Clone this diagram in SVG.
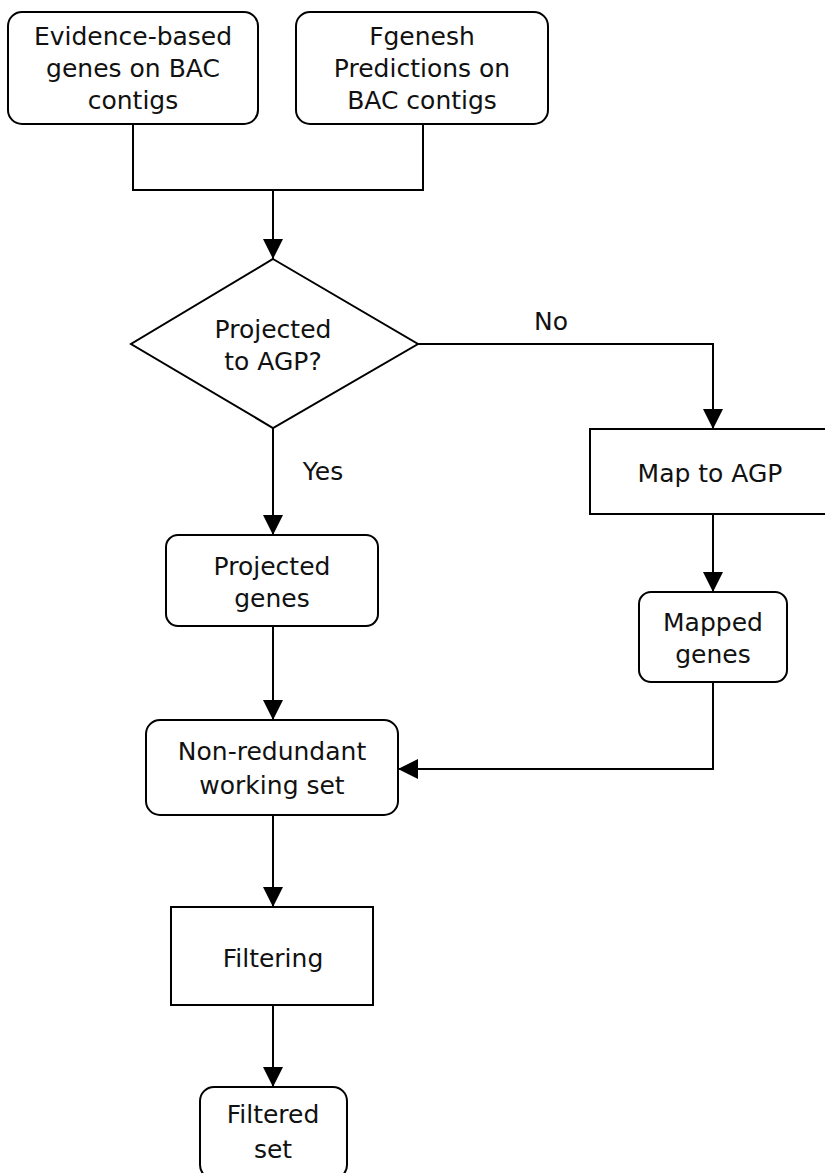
<svg xmlns="http://www.w3.org/2000/svg" width="825" height="1173" viewBox="0 0 825 1173">
<style>
.box{fill:#fff;stroke:#000;stroke-width:2}
.ln{fill:none;stroke:#000;stroke-width:2}
.arr{marker-end:url(#ah)}
text{font-family:"DejaVu Sans",Verdana,sans-serif;font-size:25px;fill:#111;text-anchor:middle}
</style>
<defs>
<marker id="ah" markerUnits="userSpaceOnUse" markerWidth="20" markerHeight="20" refX="20" refY="10" orient="auto">
<path d="M0,0 L20,10 L0,20 z" fill="#000"/>
</marker>
</defs>
<rect width="825" height="1173" fill="#fff"/>
<g id="connectors">
<polyline class="ln" points="133,124 133,190 423,190 423,124"/>
<line class="ln arr" x1="273" y1="190" x2="273" y2="259"/>
<polyline class="ln arr" points="418,344 713,344 713,429"/>
<line class="ln arr" x1="273" y1="428" x2="273" y2="535"/>
<line class="ln arr" x1="713" y1="514" x2="713" y2="592"/>
<line class="ln arr" x1="273" y1="626" x2="273" y2="720"/>
<polyline class="ln arr" points="713,682 713,769 398,769"/>
<line class="ln arr" x1="273" y1="815" x2="273" y2="907"/>
<line class="ln arr" x1="273" y1="1005" x2="273" y2="1087"/>
<text x="551" y="330">No</text>
<text x="323" y="480">Yes</text>
</g>
<g id="n_evidence">
<rect class="box" x="8" y="12" width="250" height="112" rx="14"/>
<text x="133" y="45">Evidence-based</text>
<text x="133" y="77">genes on BAC</text>
<text x="133" y="109">contigs</text>
</g>
<g id="n_fgenesh">
<rect class="box" x="296" y="12" width="252" height="112" rx="14"/>
<text x="422" y="45">Fgenesh</text>
<text x="422" y="77">Predictions on</text>
<text x="422" y="109">BAC contigs</text>
</g>
<g id="n_decision">
<polygon class="box" points="273,259 418,344 273,428 131,344"/>
<text x="273" y="338">Projected</text>
<text x="273" y="370">to AGP?</text>
</g>
<g id="n_map">
<rect class="box" x="590" y="429" width="246" height="85"/>
<text x="710" y="482">Map to AGP</text>
</g>
<g id="n_projected">
<rect class="box" x="166" y="535" width="212" height="91" rx="12"/>
<text x="272" y="575">Projected</text>
<text x="272" y="607">genes</text>
</g>
<g id="n_mapped">
<rect class="box" x="639" y="592" width="148" height="90" rx="12"/>
<text x="713" y="631">Mapped</text>
<text x="713" y="663">genes</text>
</g>
<g id="n_nonredundant">
<rect class="box" x="146" y="720" width="252" height="95" rx="14"/>
<text x="272" y="760">Non-redundant</text>
<text x="272" y="794">working set</text>
</g>
<g id="n_filtering">
<rect class="box" x="171" y="907" width="202" height="98"/>
<text x="273" y="967">Filtering</text>
</g>
<g id="n_filtered">
<rect class="box" x="200" y="1087" width="147" height="92" rx="14"/>
<text x="273" y="1123">Filtered</text>
<text x="273" y="1158">set</text>
</g>
</svg>
